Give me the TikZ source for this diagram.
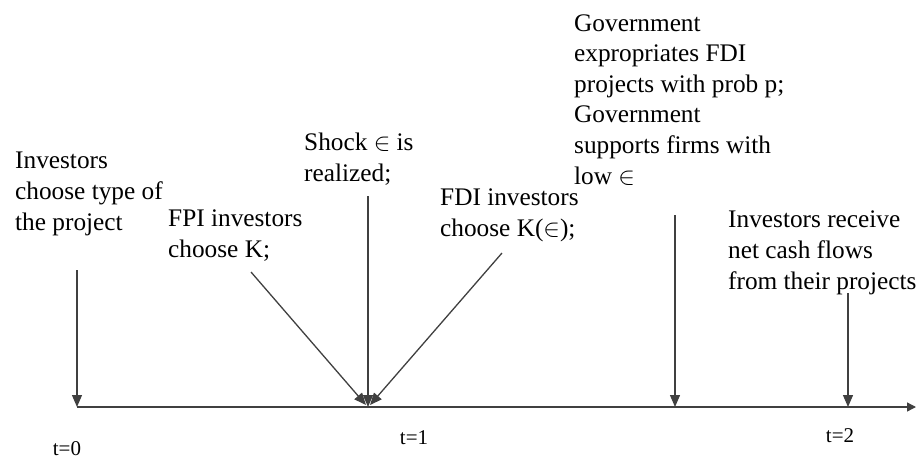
\documentclass[tikz,border=0pt]{standalone}
\usepackage{fontspec}
\setmainfont{Liberation Serif}
\usetikzlibrary{arrows.meta}
\begin{document}
\begin{tikzpicture}[x=1pt,y=-1pt,
  lbl/.style={anchor=base west,inner sep=0pt,align=left,font=\fontsize{25.3}{30.6}\selectfont},
  tlbl/.style={anchor=base,inner sep=0pt,font=\fontsize{21}{25}\selectfont},
  evt/.style={line width=1.3pt,draw=black!75,-{Triangle[length=12pt,width=10pt]}},
  axisline/.style={line width=1.3pt,draw=black!75,-{Triangle[length=9pt,width=9pt]}}]
\useasboundingbox (0,0) rectangle (916,461);
% text nodes (anchor = baseline of last line)
\node[lbl] (inv) at (15,230) {Investors\\choose type of\\the project};
\node[lbl] (fpi) at (168,257) {FPI investors\\choose K;};
\node[lbl] (shock) at (304,181) {Shock $\in$ is\\realized;};
\node[lbl] (fdi) at (440,236) {FDI investors\\choose K($\in$);};
\node[lbl] (gov) at (574,184) {Government\\expropriates FDI\\projects with prob p;\\Government\\supports firms with\\low $\in$};
\node[lbl] (rec) at (728,289) {Investors receive\\net cash flows\\from their projects};
\node[tlbl] (t0) at (67,455) {t=0};
\node[tlbl] (t1) at (414,444) {t=1};
\node[tlbl] (t2) at (840,442) {t=2};
% connector end points
\coordinate (a0s) at (77,270);
\coordinate (a0e) at (77,407);
\coordinate (fpis) at (251,272);
\coordinate (fpie) at (366,405);
\coordinate (shs) at (368,196);
\coordinate (she) at (368,407);
\coordinate (fdis) at (502,253);
\coordinate (fdie) at (370,405);
\coordinate (govs) at (675,215);
\coordinate (gove) at (675,407);
\coordinate (recs) at (848,293);
\coordinate (rece) at (848,407);
\coordinate (axs) at (77,407);
\coordinate (axe) at (916,407);
% axis
\draw[axisline] (axs) -- (axe);
% arrows
\draw[evt] (a0s) -- (a0e);
\draw[evt] (fpis) -- (fpie);
\draw[evt] (fdis) -- (fdie);
\draw[evt] (shs) -- (she);
\draw[evt] (govs) -- (gove);
\draw[evt] (recs) -- (rece);
\end{tikzpicture}
\end{document}
